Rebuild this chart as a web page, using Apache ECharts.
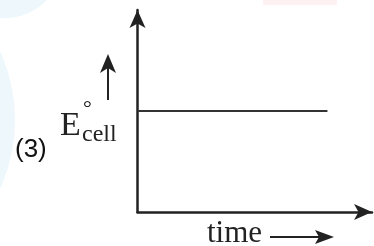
<!DOCTYPE html>
<html>
<head>
<meta charset="utf-8">
<script src="https://cdn.jsdelivr.net/npm/echarts@6/dist/echarts.min.js"></script>
<style>
  html, body { margin: 0; padding: 0; background: #fff; }
  #chart { width: 374px; height: 246px; }
</style>
</head>
<body>
<div id="chart"></div>
<script>
// values (axes have no scale, 0..10 is arbitrary)
const timeValues = [0, 8.1];
const ecellValues = [5.0, 5.0];
const panelLabel = '(3)';
const xLabel = 'time';

const chart = echarts.init(document.getElementById('chart'));
const ink = '#222';

const option = {
  backgroundColor: '#fff',
  animation: false,
  grid: { left: 137.5, right: 2, top: 10, bottom: 34, outerBoundsMode: 'none' },
  xAxis: {
    type: 'value',
    min: 0,
    max: 10,
    axisLine: { show: true, symbol: ['none', 'arrow'], symbolSize: [12, 18], lineStyle: { color: ink, width: 2.5 } },
    axisTick: { show: false },
    axisLabel: { show: false },
    splitLine: { show: false }
  },
  yAxis: {
    type: 'value',
    min: 0,
    max: 10,
    axisLine: { show: true, symbol: ['none', 'arrow'], symbolSize: [12, 18], lineStyle: { color: ink, width: 2.5 } },
    axisTick: { show: false },
    axisLabel: { show: false },
    splitLine: { show: false }
  },
  series: [
    {
      type: 'line',
      data: timeValues.map((t, i) => [t, ecellValues[i]]),
      symbol: 'none',
      lineStyle: { color: '#333', width: 2 },
      z: 1
    }
  ],
  graphic: [
    // faint watermark shapes in the background
    { type: 'circle', z: -10, shape: { cx: -150, cy: 120, r: 165 }, style: { fill: '#edf7fc' } },
    { type: 'circle', z: -10, shape: { cx: 5, cy: -40, r: 58 }, style: { fill: '#edf7fc' } },
    { type: 'rect', z: -10, shape: { x: 263, y: 0, width: 74, height: 5 }, style: { fill: '#fdf1f1' } },

    { type: 'text', left: 15, top: 137, style: { text: panelLabel, font: '26px "Liberation Sans", Arial, sans-serif', fill: '#111' } },

    // E°cell label with its arrow
    { type: 'text', x: 60, y: 109, style: { text: 'E', font: '34px "Liberation Serif", serif', fill: '#222', verticalAlign: 'top' } },
    { type: 'text', x: 83, y: 98, style: { text: '°', font: '22px "Liberation Serif", serif', fill: '#222', verticalAlign: 'top' } },
    { type: 'text', x: 82, y: 122.5, style: { text: 'cell', font: '24px "Liberation Serif", serif', fill: '#222', verticalAlign: 'top' } },
    { type: 'line', shape: { x1: 108, y1: 68, x2: 108, y2: 100 }, style: { stroke: '#222', lineWidth: 2 } },
    { type: 'polygon', shape: { points: [[108, 54], [116, 73], [108, 68], [100, 73]] }, style: { fill: '#222' } },

    // time label with its arrow
    { type: 'text', x: 207, y: 218, style: { text: xLabel, font: '31px "Liberation Serif", serif', fill: '#222', verticalAlign: 'top' } },
    { type: 'line', shape: { x1: 270, y1: 237, x2: 322, y2: 237 }, style: { stroke: '#222', lineWidth: 2 } },
    { type: 'polygon', shape: { points: [[334, 237], [315, 244], [319, 237], [315, 230]] }, style: { fill: '#222' } }
  ]
};

chart.setOption(option);
</script>
</body>
</html>
